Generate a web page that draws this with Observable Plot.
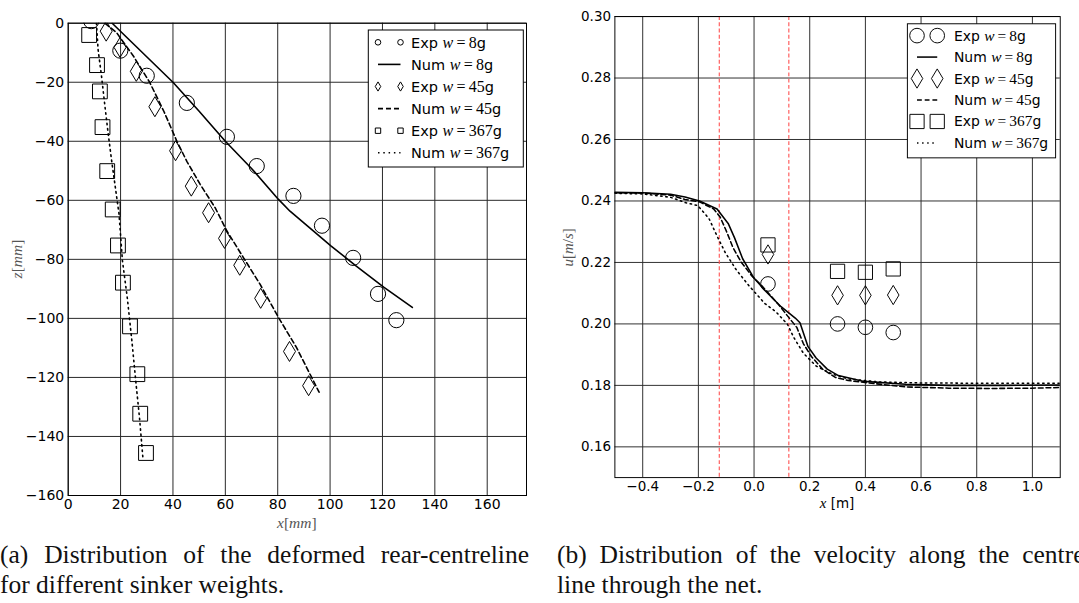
<!DOCTYPE html>
<html>
<head>
<meta charset="utf-8">
<script src="https://cdn.jsdelivr.net/npm/d3@7"></script>
<script src="https://cdn.jsdelivr.net/npm/@observablehq/plot@0.6"></script>
<style>
  html, body { margin: 0; padding: 0; background: #fff; width: 1079px; height: 603px; overflow: hidden; }
  #page { position: relative; width: 1079px; height: 603px; overflow: hidden; }
  .panel { position: absolute; top: 0; }
  .caption { position: absolute; font-family: "Liberation Serif", serif; font-size: 25.5px; line-height: 30px; color: #111; }
  .caption .l1 { text-align: justify; text-align-last: justify; }
</style>
</head>
<body>
<div id="page">
  <div id="panelA" class="panel" style="left:0px"></div>
  <div id="panelB" class="panel" style="left:540px"></div>
  <div class="caption" style="left:0px; top:540px; width:529px">
    <div class="l1">(a) Distribution of the deformed rear-centreline</div>
    <div>for different sinker weights.</div>
  </div>
  <div class="caption" style="left:557px; top:540px; width:536px">
    <div class="l1">(b) Distribution of the velocity along the centre-</div>
    <div>line through the net.</div>
  </div>
</div>
<script>
// ---------- (a) deformed rear-centreline, x [mm] vs z [mm] ----------
const weights = [8, 45, 367];

const expX8  = [8.8, 19.9, 30.0, 45.3, 60.6, 72.0, 86.0, 96.9, 108.8, 118.3, 125.3];
const expZ8  = [0.7, -9.3, -17.8, -27.0, -38.5, -48.4, -58.5, -68.6, -79.5, -91.7, -100.6];
const numX8  = [16.8, 40.0, 50.0, 60.0, 70.0, 80.3, 84.7, 92.0, 100.3, 110.0, 120.6, 131.4];
const numZ8  = [0, -20.0, -29.8, -40.0, -49.2, -59.7, -63.7, -69.2, -75.4, -82.3, -89.5, -96.3];

const expX45 = [14.5, 19.8, 26.0, 33.1, 41.0, 47.0, 53.6, 59.7, 65.5, 73.5, 84.5, 91.8];
const expZ45 = [-2.7, -8.2, -16.3, -28.3, -43.2, -55.2, -64.2, -72.9, -82.0, -93.2, -111.2, -122.8];
const numX45 = [14.0, 18.4, 24.8, 31.1, 36.6, 41.5, 45.3, 50.4, 56.1, 60.6, 66.9, 73.3, 80.3, 87.2, 94.9, 95.8];
const numZ45 = [0, -3.1, -11.0, -20.0, -30.0, -40.0, -46.8, -54.6, -62.5, -70.4, -79.4, -88.5, -99.7, -109.9, -123.4, -125.0];

const expX367 = [8.0, 11.0, 12.1, 13.1, 14.9, 17.0, 19.0, 20.9, 23.6, 26.4, 27.5, 29.7];
const expZ367 = [-4.0, -14.2, -23.1, -35.2, -50.1, -63.1, -75.3, -87.9, -102.7, -118.9, -132.3, -145.6];
const numX367 = [10.8, 11.4, 12.7, 14.0, 15.2, 16.5, 19.4, 20.7, 22.6, 24.3, 25.9, 27.2, 28.5];
const numZ367 = [0, -8.8, -17.8, -27.9, -36.9, -46.0, -64.6, -80.4, -93.3, -107.5, -122.1, -133.4, -147.0];

const xTicksA = [0, 20, 40, 60, 80, 100, 120, 140, 160];
const yTicksA = [0, -20, -40, -60, -80, -100, -120, -140, -160];

// ---------- (b) velocity along the centreline, x [m] vs u [m/s] ----------
const expXb   = [0.05, 0.3, 0.4, 0.5];
const expU8   = [0.2130, 0.2000, 0.1989, 0.1972];
const expU45  = [0.2226, 0.2093, 0.2093, 0.2094];
const expU367 = [0.2257, 0.2171, 0.2168, 0.2179];

const numXb8  = [-0.5, -0.4, -0.3, -0.248, -0.196, -0.133, -0.093, -0.070, -0.041, -0.001, 0.040, 0.097, 0.148, 0.165, 0.194, 0.223, 0.263, 0.303, 0.395, 0.545, 0.7, 0.9, 1.1];
const numUb8  = [0.2428, 0.2427, 0.2422, 0.2413, 0.2400, 0.2374, 0.2327, 0.2280, 0.2212, 0.2150, 0.2108, 0.2056, 0.2019, 0.2004, 0.1926, 0.1889, 0.1853, 0.1832, 0.1813, 0.1804, 0.1800, 0.1800, 0.1801];
const numXb45 = [-0.5, -0.4, -0.3, -0.248, -0.196, -0.145, -0.122, -0.099, -0.076, -0.047, -0.007, 0.028, 0.085, 0.131, 0.154, 0.177, 0.206, 0.246, 0.292, 0.338, 0.43, 0.545, 0.7, 0.85, 1.0, 1.1];
const numUb45 = [0.2427, 0.2426, 0.2419, 0.2405, 0.2397, 0.2374, 0.2348, 0.2301, 0.2249, 0.2202, 0.2155, 0.2124, 0.2066, 0.2014, 0.1988, 0.1936, 0.1894, 0.1853, 0.1826, 0.1816, 0.1806, 0.1795, 0.1791, 0.1790, 0.1791, 0.1793];
const numXb367 = [-0.5, -0.4, -0.3, -0.248, -0.202, -0.162, -0.133, -0.104, -0.064, -0.018, 0.039, 0.078, 0.120, 0.142, 0.177, 0.223, 0.280, 0.338, 0.453, 0.6, 0.8, 1.0, 1.1];
const numUb367 = [0.2425, 0.2423, 0.2412, 0.2395, 0.2385, 0.2343, 0.2286, 0.2233, 0.2176, 0.2124, 0.2066, 0.2040, 0.1999, 0.1957, 0.1905, 0.1863, 0.1837, 0.1821, 0.1811, 0.1808, 0.1807, 0.1807, 0.1807];

const netEdges = [-0.125, 0.125];
const xTicksB = [-0.4, -0.2, 0.0, 0.2, 0.4, 0.6, 0.8, 1.0];
const yTicksB = [0.16, 0.18, 0.20, 0.22, 0.24, 0.26, 0.28, 0.30];

// ---------- helpers ----------
const pairs = (xs, ys) => xs.map((x, i) => ({x, y: ys[i]}));

// marker shapes; r = sqrt(size / PI) is the radius given to the dot mark
const circleSym = {draw(ctx, size) { const r = Math.sqrt(size / Math.PI); ctx.moveTo(r, 0); ctx.arc(0, 0, r, 0, 2 * Math.PI); }};
const squareSym = {draw(ctx, size) { const r = Math.sqrt(size / Math.PI); ctx.rect(-r, -r, 2 * r, 2 * r); }};
const diamondSym = {draw(ctx, size) { const r = Math.sqrt(size / Math.PI), w = 0.6 * r; ctx.moveTo(0, -r); ctx.lineTo(w, 0); ctx.lineTo(0, r); ctx.lineTo(-w, 0); ctx.closePath(); }};

const styles = [
  {sym: circleSym,  rBig: 7.6, rSmall: 2.8, dash: null},
  {sym: diamondSym, rBig: 10,  rSmall: 4.6, dash: "5,3"},
  {sym: squareSym,  rBig: 7.4, rSmall: 2.7, dash: "1.5,3.8"}
];

const gridColor = "#2a2a2a";
const fmtInt = d3.format("d");

function dots(data, s) {
  return Plot.dot(data, {x: "x", y: "y", symbol: s.sym, r: s.rBig, stroke: "black", fill: "none", strokeWidth: 1, clip: true});
}
function curve(data, s) {
  return Plot.line(data, {x: "x", y: "y", stroke: "black", strokeWidth: 1.6, strokeDasharray: s.dash, clip: true});
}

function mathText(sel, parts) {
  // parts: [text, italic?, family?, size?]
  for (const [t, it, fam, size] of parts) {
    const ts = sel.append("tspan").text(t);
    if (it) ts.attr("font-style", "italic");
    if (fam) ts.attr("font-family", fam);
    if (size) ts.attr("font-size", size);
  }
}

function legend(svg, o) {
  const g = svg.append("g").attr("text-anchor", "start");
  g.append("rect").attr("x", o.x0).attr("y", o.y0).attr("width", o.x1 - o.x0).attr("height", o.y1 - o.y0)
    .attr("fill", "white").attr("stroke", "black").attr("stroke-width", 1);
  weights.forEach((w, k) => {
    const s = styles[k];
    ["Exp", "Num"].forEach((kind, j) => {
      const y = o.row0 + o.step * (2 * k + j);
      if (kind === "Exp") {
        const path = d3.symbol(s.sym, Math.PI * (o.big ? s.rBig : s.rSmall) ** 2)();
        for (const x of [o.h0, o.h1]) {
          g.append("path").attr("d", path).attr("transform", `translate(${x},${y})`)
            .attr("fill", "none").attr("stroke", "black").attr("stroke-width", 1);
        }
      } else {
        g.append("line").attr("x1", o.h0).attr("x2", o.h1).attr("y1", y).attr("y2", y)
          .attr("stroke", "black").attr("stroke-width", 1.6).attr("stroke-dasharray", s.dash);
      }
      const t = g.append("text").attr("x", o.tx).attr("y", y).attr("dy", "0.36em").attr("text-anchor", "start")
        .attr("font-size", 14.5).attr("font-family", "DejaVu Sans").attr("fill", "black");
      mathText(t, [[kind + " ", false, "DejaVu Sans"], ["w", true, "Liberation Serif", 16],
                   ["\u2009=\u2009" + w, false, "Liberation Serif", 16], ["g", false, "DejaVu Sans"]]);
    });
  });
}

// ---------- panel (a) ----------
const plotA = Plot.plot({
  width: 540, height: 540,
  marginLeft: 67.7, marginRight: 14, marginTop: 22.7, marginBottom: 45,
  style: {fontFamily: "DejaVu Sans", fontSize: "14px", background: "white", color: "black"},
  x: {domain: [0, 175], ticks: xTicksA, tickSize: 0, tickPadding: 4, tickFormat: fmtInt, label: null},
  y: {domain: [-160, 0], ticks: yTicksA, tickSize: 0, tickPadding: 4, tickFormat: fmtInt, label: null},
  marks: [
    Plot.ruleX(xTicksA, {stroke: gridColor, strokeWidth: 1}),
    Plot.ruleY(yTicksA, {stroke: gridColor, strokeWidth: 1}),
    dots(pairs(expX8, expZ8), styles[0]),
    curve(pairs(numX8, numZ8), styles[0]),
    dots(pairs(expX45, expZ45), styles[1]),
    curve(pairs(numX45, numZ45), styles[1]),
    dots(pairs(expX367, expZ367), styles[2]),
    curve(pairs(numX367, numZ367), styles[2]),
    Plot.frame({stroke: "black", strokeWidth: 1})
  ]
});
document.getElementById("panelA").appendChild(plotA);
const svgA = d3.select(plotA);
legend(svgA, {x0: 368.3, x1: 523.3, y0: 30, y1: 167, row0: 42.3, step: 22.1, h0: 378, h1: 400.5, tx: 411, big: false});
svgA.append("text").attr("transform", "translate(16.5,259) rotate(-90)").attr("text-anchor", "middle").attr("dy", "0.35em")
  .attr("font-family", "Liberation Serif").attr("font-size", 15.5).attr("fill", "#555")
  .call(t => mathText(t, [["z", true], ["["], ["mm", true], ["]"]]));
svgA.append("text").attr("x", 296.8).attr("y", 527.5).attr("text-anchor", "middle")
  .attr("font-family", "Liberation Serif").attr("font-size", 15.5).attr("fill", "#555")
  .call(t => mathText(t, [["x", true], ["["], ["mm", true], ["]"]]));

// ---------- panel (b) ----------
const plotB = Plot.plot({
  width: 560, height: 540,
  marginLeft: 77.3, marginRight: 20, marginTop: 16.7, marginBottom: 44.3,
  style: {fontFamily: "DejaVu Sans", fontSize: "14px", background: "white", color: "black", overflow: "visible"},
  x: {domain: [-0.5, 1.1], ticks: xTicksB, tickSize: 0, tickPadding: 4, tickFormat: d3.format(".1f"), label: null},
  y: {domain: [0.15, 0.30], ticks: yTicksB, tickSize: 0, tickPadding: 4, tickFormat: d3.format(".2f"), label: null},
  marks: [
    Plot.ruleX(xTicksB, {stroke: gridColor, strokeWidth: 1}),
    Plot.ruleY(yTicksB, {stroke: gridColor, strokeWidth: 1}),
    Plot.ruleX(netEdges, {stroke: "#ff4a4a", strokeWidth: 1.1, strokeDasharray: "4,2.5"}),
    dots(pairs(expXb, expU8), styles[0]),
    curve(pairs(numXb8, numUb8), styles[0]),
    dots(pairs(expXb, expU45), styles[1]),
    curve(pairs(numXb45, numUb45), styles[1]),
    dots(pairs(expXb, expU367), styles[2]),
    curve(pairs(numXb367, numUb367), styles[2]),
    Plot.frame({stroke: "black", strokeWidth: 1})
  ]
});
document.getElementById("panelB").appendChild(plotB);
const svgB = d3.select(plotB);
legend(svgB, {x0: 381.7, x1: 535.7, y0: 24.7, y1: 164, row0: 37, step: 22.3, h0: 391.7, h1: 412.7, tx: 430, big: true});
svgB.append("text").attr("transform", "translate(29,257) rotate(-90)").attr("text-anchor", "middle").attr("dy", "0.35em")
  .attr("font-family", "Liberation Serif").attr("font-size", 15.5).attr("fill", "#555")
  .call(t => mathText(t, [["u", true], ["["], ["m", true], ["/"], ["s", true], ["]"]]));
svgB.append("text").attr("x", 308.6).attr("y", 527.5).attr("text-anchor", "middle")
  .attr("font-size", 14).attr("fill", "black")
  .call(t => mathText(t, [["x", true, "Liberation Serif", 15.5], [" [m]", false, "DejaVu Sans"]]));
</script>
</body>
</html>
